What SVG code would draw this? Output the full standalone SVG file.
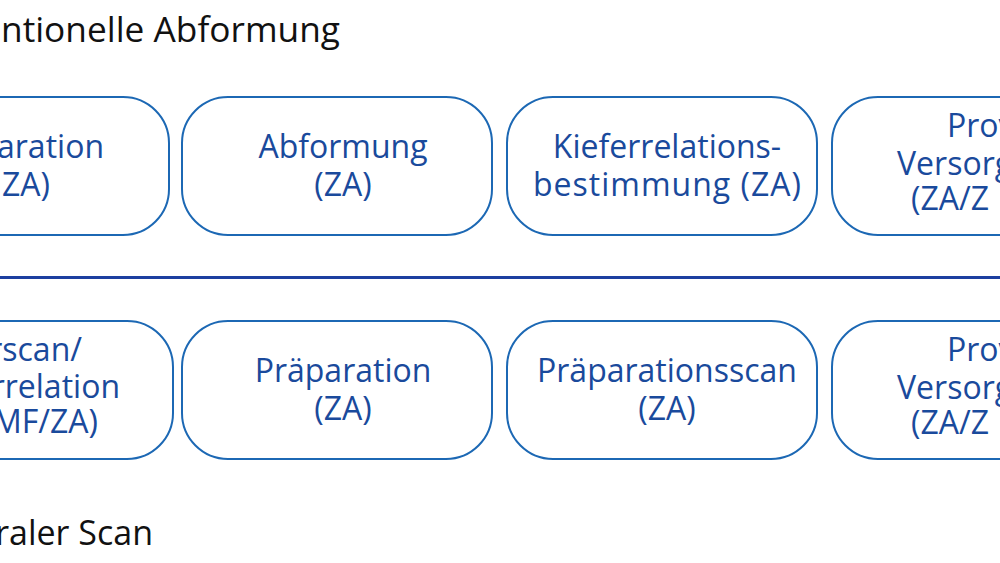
<svg xmlns="http://www.w3.org/2000/svg" width="1000" height="563" viewBox="0 0 1000 563">
<style>
.box{fill:#ffffff;stroke:#1c68b4;stroke-width:2}
.t{font-family:"Open Sans","Noto Sans",sans-serif;font-size:32px;fill:#1a4a9c}
.c{text-anchor:middle}
.e{text-anchor:end}
.title{font-family:"Open Sans","Noto Sans",sans-serif;font-size:34px;fill:#111111}
</style>
<rect width="1000" height="563" fill="#ffffff"/>
<text class="title" x="1" y="42" textLength="339" lengthAdjust="spacingAndGlyphs">ntionelle Abformung</text>
<text class="title e" x="153" y="545">raler Scan</text>
<g id="connectors">
<line x1="0" y1="277.5" x2="1000" y2="277.5" stroke="#1d3fa0" stroke-width="3"/>
</g>
<g id="n1">
<rect class="box" x="-143" y="97" width="312" height="138" rx="46"/>
<text class="t e" x="104" y="158">aration</text>
<text class="t e" x="50" y="196">ZA)</text>
</g>
<g id="n2">
<rect class="box" x="182" y="97" width="310" height="138" rx="46"/>
<text class="t c" x="343" y="158">Abformung</text>
<text class="t c" x="343" y="196">(ZA)</text>
</g>
<g id="n3">
<rect class="box" x="507" y="97" width="310" height="138" rx="46"/>
<text class="t c" x="667" y="158">Kieferrelations-</text>
<text class="t c" x="667" y="196" textLength="268" lengthAdjust="spacing">bestimmung (ZA)</text>
</g>
<g id="n4">
<rect class="box" x="832" y="97" width="310" height="138" rx="46"/>
<text class="t" x="947" y="137">Prov</text>
<text class="t" x="897" y="175">Versorg</text>
<text class="t" x="911" y="210">(ZA/Z</text>
</g>
<g id="n5">
<rect class="box" x="-139" y="321" width="312" height="138" rx="46"/>
<text class="t e" x="82" y="361">rscan/</text>
<text class="t e" x="120" y="398">rrelation</text>
<text class="t e" x="98" y="433">MF/ZA)</text>
</g>
<g id="n6">
<rect class="box" x="182" y="321" width="310" height="138" rx="46"/>
<text class="t c" x="343" y="382">Präparation</text>
<text class="t c" x="343" y="420">(ZA)</text>
</g>
<g id="n7">
<rect class="box" x="507" y="321" width="310" height="138" rx="46"/>
<text class="t c" x="667" y="382">Präparationsscan</text>
<text class="t c" x="667" y="420">(ZA)</text>
</g>
<g id="n8">
<rect class="box" x="832" y="321" width="310" height="138" rx="46"/>
<text class="t" x="947" y="361">Prov</text>
<text class="t" x="897" y="399">Versorg</text>
<text class="t" x="911" y="434">(ZA/Z</text>
</g>
</svg>
